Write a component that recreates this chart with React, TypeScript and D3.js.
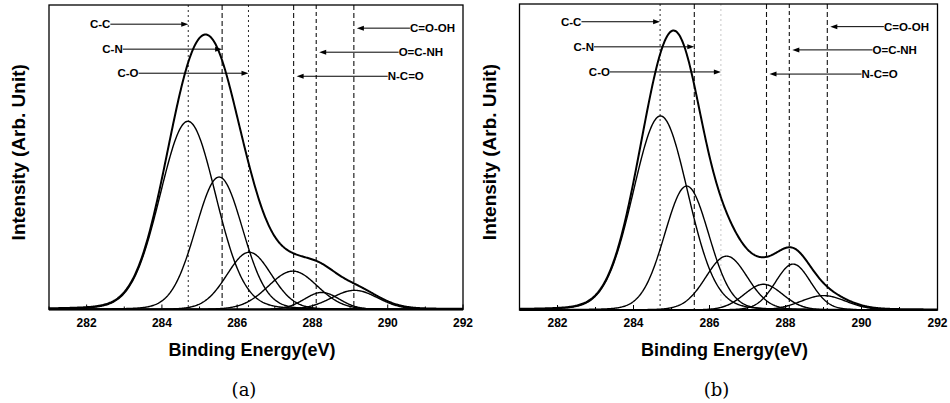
import * as d3 from "d3";
import { useEffect, useRef } from "react";

// binding energies of the assigned bonds (dashed reference lines)
const bondNames = ["C-C", "C-N", "C-O", "N-C=O", "O=C-NH", "C=O-OH"];
const bondEnergies = [284.7, 285.6, 286.3, 287.5, 288.1, 289.1];
const bondDash = ["2,3", "5,3", "2,3", "5,3", "4,3", "5,3"];

// fitted peaks: centre (eV), height (% of frame), FWHM (eV)
const peakCentersA = [284.69, 285.52, 286.32, 287.48, 288.25, 289.12];
const peakHeightsA = [61.8, 43.5, 18.8, 12.6, 5.6, 6.3];
const peakWidthsA = [1.75, 1.48, 1.4, 1.55, 1.1, 1.45];

const peakCentersB = [284.71, 285.4, 286.45, 287.42, 288.2, 289.0];
const peakHeightsB = [63.4, 40.5, 17.6, 8.4, 15.0, 4.7];
const peakWidthsB = [1.7, 1.38, 1.3, 1.2, 1.1, 1.4];

// arrow label placement: text x (eV), y (% of frame), pointing to bondEnergies
const labelX = [282.63, 282.96, 283.38, 290.0, 290.29, 290.59];
const labelYA = [93.7, 85.5, 77.6, 76.6, 84.5, 92.4];
const labelYB = [94.2, 86.0, 77.8, 77.1, 85.0, 92.6];

const xTicks = [282, 284, 286, 288, 290, 292];
const xMinor = [281, 282, 283, 284, 285, 286, 287, 288, 289, 290, 291, 292];

const lorentzShare = 0.08;
const font = "'Liberation Sans', Arial, sans-serif";

const profile = (x, c, h, w) => {
    const d = x - c;
    const g = Math.exp((-4 * Math.LN2 * d * d) / (w * w));
    const l = 1 / (1 + (4 * d * d) / (w * w));
    return h * ((1 - lorentzShare) * g + lorentzShare * l);
};

const drawPanel = (svg, opts) => {
    const { left, width, top, bottom, centers, heights, widths, labelY, caption, faintLine } = opts;

    const x = d3.scaleLinear().domain([281, 292]).range([left, left + width]);
    const y = d3.scaleLinear().domain([0, 100]).range([bottom, top]);
    const g = svg.append("g");

    const clipId = "clip-" + caption;
    g.append("clipPath").attr("id", clipId)
        .append("rect")
        .attr("x", left).attr("y", top)
        .attr("width", width).attr("height", bottom - top);

    // dashed bond lines
    bondEnergies.forEach((e, i) => {
        g.append("line")
            .attr("x1", x(e)).attr("x2", x(e))
            .attr("y1", top).attr("y2", bottom)
            .attr("stroke", "#111")
            .attr("stroke-width", i === 0 || i === 2 ? 0.9 : 1.1)
            .attr("stroke-dasharray", bondDash[i])
            .attr("opacity", i === 2 && faintLine ? 0.25 : 1);
    });

    const xs = d3.range(281, 292.0001, 0.02);
    const line = d3.line().x(d => x(d[0])).y(d => y(d[1])).curve(d3.curveLinear);

    centers.forEach((c, i) => {
        const pts = xs.map(v => [v, profile(v, c, heights[i], widths[i])]);
        g.append("path")
            .datum(pts)
            .attr("fill", "none")
            .attr("stroke", "#000")
            .attr("stroke-width", 1.4)
            .attr("clip-path", `url(#${clipId})`)
            .attr("d", line);
    });

    const env = xs.map(v => [v, d3.sum(centers, (c, i) => profile(v, c, heights[i], widths[i]))]);
    g.append("path")
        .datum(env)
        .attr("fill", "none")
        .attr("stroke", "#000")
        .attr("stroke-width", 2)
        .attr("clip-path", `url(#${clipId})`)
        .attr("d", line);

    // frame
    g.append("rect")
        .attr("x", left).attr("y", top)
        .attr("width", width).attr("height", bottom - top)
        .attr("fill", "none").attr("stroke", "#000").attr("stroke-width", 1.3);
    g.append("line")
        .attr("x1", left).attr("x2", left + width)
        .attr("y1", bottom).attr("y2", bottom)
        .attr("stroke", "#000").attr("stroke-width", 2);

    // inward ticks on bottom axis
    xMinor.forEach(t => {
        g.append("line")
            .attr("x1", x(t)).attr("x2", x(t))
            .attr("y1", bottom).attr("y2", bottom - (t % 2 === 0 ? 5 : 3))
            .attr("stroke", "#000").attr("stroke-width", 1);
    });
    xTicks.forEach(t => {
        g.append("text")
            .attr("x", x(t)).attr("y", bottom + 17)
            .attr("text-anchor", "middle")
            .attr("font-family", font).attr("font-weight", "bold").attr("font-size", 12)
            .text(t);
    });

    // arrows and labels
    bondNames.forEach((name, i) => {
        const toRight = i < 3;
        const ly = y(labelY[i]);
        const tx = x(labelX[i]);
        const tip = x(bondEnergies[i]) + (toRight ? 0 : 3);
        g.append("text")
            .attr("x", tx).attr("y", ly)
            .attr("dy", "0.35em")
            .attr("text-anchor", toRight ? "end" : "start")
            .attr("font-family", font).attr("font-weight", "bold").attr("font-size", 11.5)
            .text(name);
        g.append("line")
            .attr("x1", tx).attr("x2", toRight ? tip - 5 : tip + 5)
            .attr("y1", ly).attr("y2", ly)
            .attr("stroke", "#000").attr("stroke-width", 1);
        const s = toRight ? -1 : 1;
        g.append("path")
            .attr("d", `M${tip},${ly} L${tip + s * 7},${ly - 2.5} L${tip + s * 7},${ly + 2.5} Z`)
            .attr("fill", "#000");
    });

    // axis titles
    g.append("text")
        .attr("x", left + width / 2 - 4).attr("y", bottom + 46)
        .attr("text-anchor", "middle")
        .attr("font-family", font).attr("font-weight", "bold").attr("font-size", 18)
        .text("Binding Energy(eV)");
    g.append("text")
        .attr("transform", `translate(${left - 24},${(top + bottom) / 2 - 5}) rotate(-90)`)
        .attr("text-anchor", "middle")
        .attr("font-family", font).attr("font-weight", "bold").attr("font-size", 19)
        .text("Intensity (Arb. Unit)");
    g.append("text")
        .attr("x", left + width / 2 - 12).attr("y", bottom + 86)
        .attr("text-anchor", "middle")
        .attr("font-family", "'DejaVu Serif', 'Liberation Serif', serif").attr("font-size", 18)
        .text(`(${caption})`);
};

const App = () => {
    const svgRef = useRef();

    useEffect(() => {
        const svg = d3.select(svgRef.current);
        svg.selectAll("*").remove();

        drawPanel(svg, {
            left: 49, width: 414, top: 5, bottom: 309.5,
            centers: peakCentersA, heights: peakHeightsA, widths: peakWidthsA,
            labelY: labelYA, caption: "a", faintLine: false
        });
        drawPanel(svg, {
            left: 519.5, width: 418, top: 4, bottom: 310,
            centers: peakCentersB, heights: peakHeightsB, widths: peakWidthsB,
            labelY: labelYB, caption: "b", faintLine: true
        });
    }, []);

    return (
        <svg ref={svgRef} width={950} height={403}
            style={{ position: "absolute", left: 0, top: 0, background: "#fff" }} />
    );
};

export default App;
